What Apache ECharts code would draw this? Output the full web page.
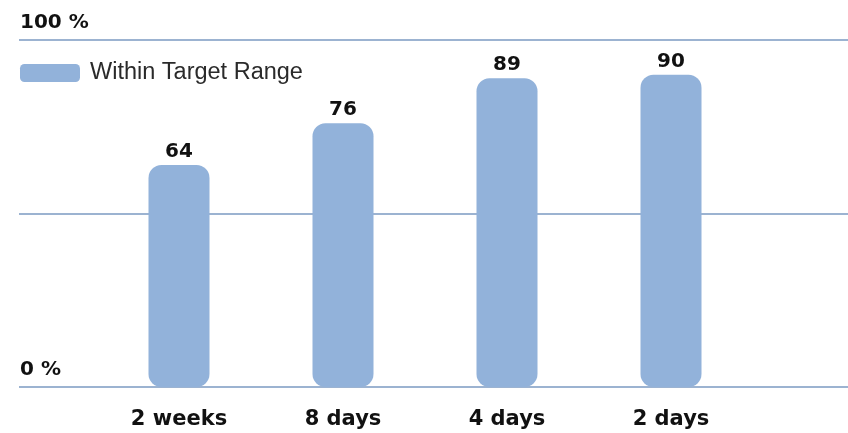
<!DOCTYPE html>
<html>
<head>
<meta charset="utf-8">
<title>Within Target Range</title>
<script src="https://cdn.jsdelivr.net/npm/echarts@6/dist/echarts.min.js"></script>
<style>
  html, body { margin: 0; padding: 0; background: #ffffff; }
  #chart { width: 848px; height: 433px; }
</style>
</head>
<body>
<div id="chart"></div>
<script>
// Share of readings within target range, by interval
const categories = ['2 weeks', '8 days', '4 days', '2 days'];
const withinTarget = [64, 76, 89, 90];
const seriesName = 'Within Target Range';
const yTicks = [0, 50, 100];
const yTickLabels = { 0: '0 %', 100: '100 %' };

const barColor = '#92b2da';
const lineColor = '#9cb3d1';
const boldFont = '"DejaVu Sans", sans-serif';

const chart = echarts.init(document.getElementById('chart'), null, { renderer: 'canvas' });

chart.setOption({
  backgroundColor: '#ffffff',
  animation: false,
  legend: {
    left: 15,
    top: 56,
    itemWidth: 60,
    itemHeight: 18,
    itemGap: 10,
    icon: 'roundRect',
    textStyle: {
      fontFamily: '"Liberation Sans", Arial, sans-serif',
      fontSize: 23.5,
      color: '#2a2a2a',
      padding: [0, 0, 0, 5]
    },
    data: [seriesName]
  },
  grid: [
    // full-width grid carrying the horizontal reference lines and % labels
    { left: 19, right: 0, top: 40, bottom: 46 },
    // inner grid carrying the bars
    { left: 97, right: 95, top: 40, bottom: 46 }
  ],
  xAxis: [
    { gridIndex: 0, type: 'value', min: 0, max: 1, show: false },
    {
      gridIndex: 1,
      type: 'category',
      data: categories,
      axisLine: { show: false },
      axisTick: { show: false },
      axisLabel: {
        margin: 22,
        fontFamily: boldFont,
        fontWeight: 'bold',
        fontSize: 21,
        color: '#111111'
      }
    }
  ],
  yAxis: [
    {
      gridIndex: 0,
      type: 'value',
      min: yTicks[0],
      max: yTicks[yTicks.length - 1],
      interval: yTicks[1] - yTicks[0],
      axisLine: { show: false },
      axisTick: { show: false },
      splitLine: { show: true, lineStyle: { color: lineColor, width: 2 } },
      axisLabel: {
        inside: true,
        margin: 1,
        align: 'left',
        verticalAlign: 'bottom',
        padding: [0, 0, 7, 0],
        fontFamily: boldFont,
        fontWeight: 'bold',
        fontSize: 20,
        color: '#111111',
        formatter: v => yTickLabels[v] || ''
      }
    },
    {
      gridIndex: 1,
      type: 'value',
      min: yTicks[0],
      max: yTicks[yTicks.length - 1],
      show: false,
      splitLine: { show: false }
    }
  ],
  series: [
    {
      name: seriesName,
      type: 'bar',
      xAxisIndex: 1,
      yAxisIndex: 1,
      data: withinTarget,
      barWidth: 61,
      itemStyle: { color: barColor, borderRadius: 13 },
      label: {
        show: true,
        position: 'top',
        distance: 3,
        fontFamily: boldFont,
        fontWeight: 'bold',
        fontSize: 20,
        color: '#111111'
      },
      z: 3
    }
  ]
});
</script>
</body>
</html>
